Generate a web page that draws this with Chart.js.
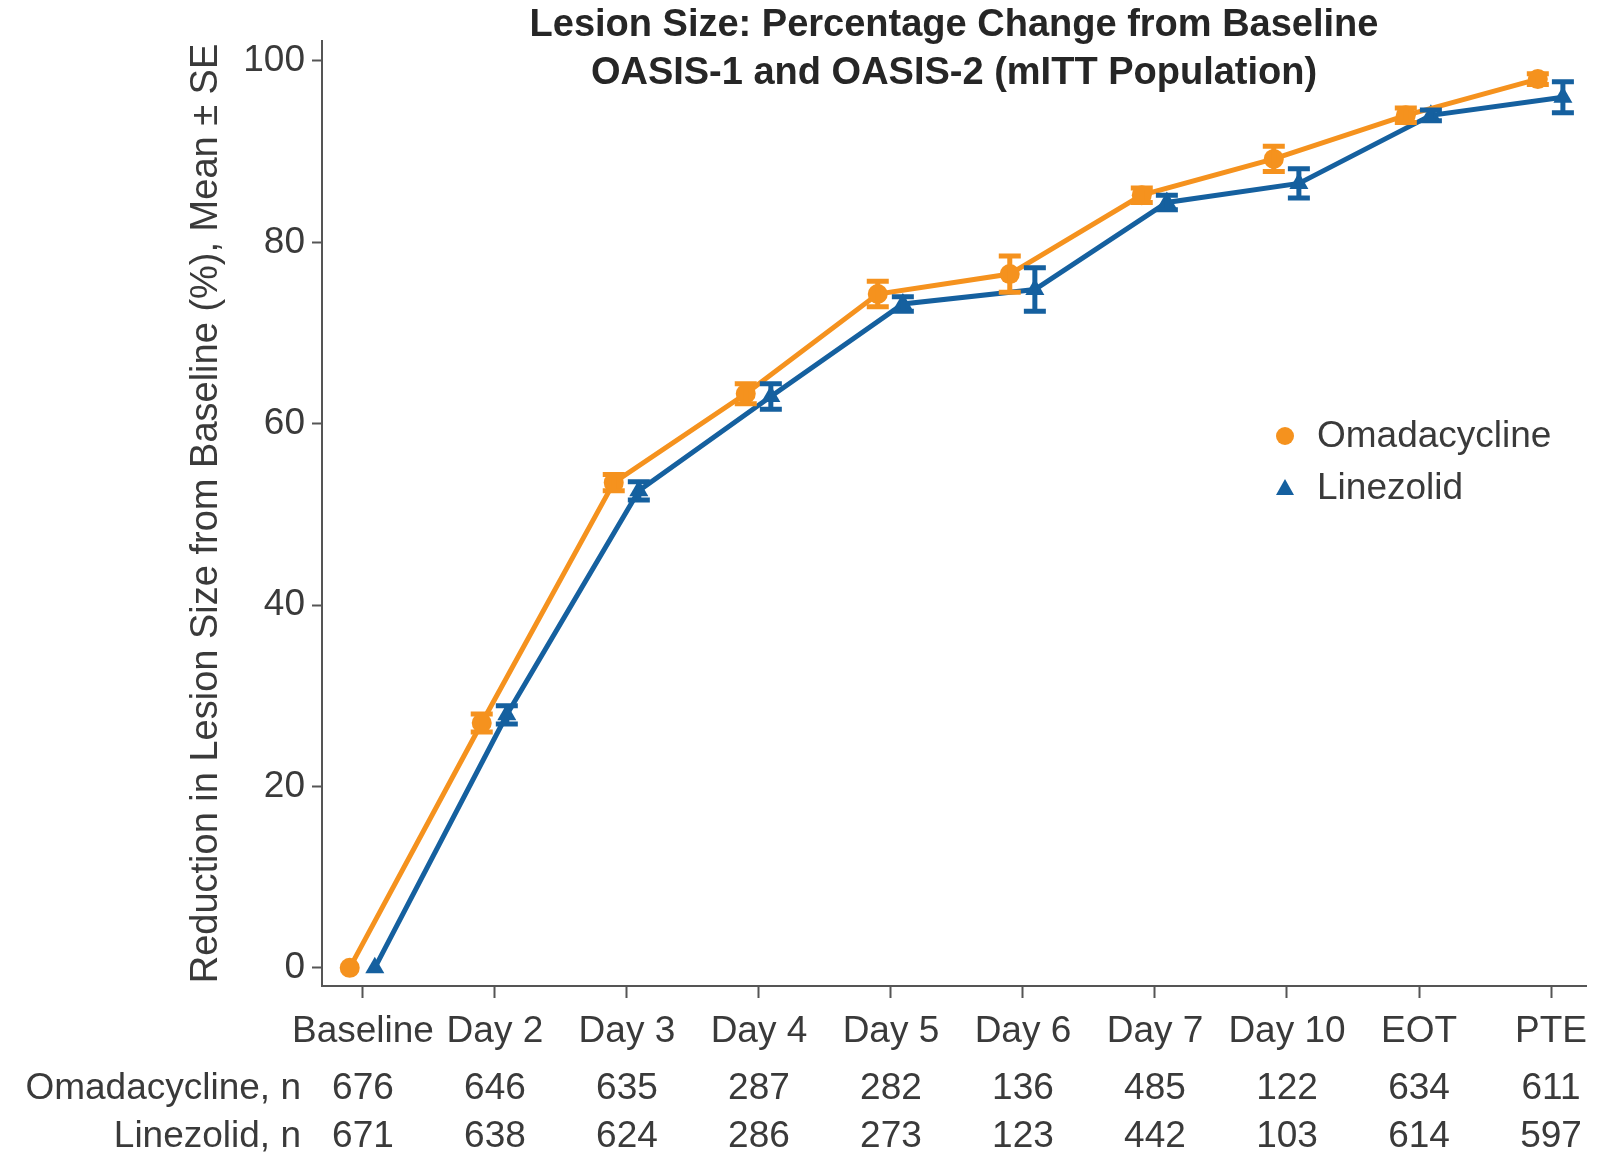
<!DOCTYPE html>
<html>
<head>
<meta charset="utf-8">
<script src="https://cdn.jsdelivr.net/npm/chart.js@4.4.1/dist/chart.umd.min.js"></script>
<style>
html, body { margin: 0; padding: 0; background: #fff; }
</style>
</head>
<body>
<canvas id="lesionChart" width="1597" height="1157"></canvas>
<script>
// visits and values
var visits = ["Baseline", "Day 2", "Day 3", "Day 4", "Day 5", "Day 6", "Day 7", "Day 10", "EOT", "PTE"];
var omaMean = [0, 27.0, 53.5, 63.3, 74.3, 76.5, 85.2, 89.2, 94.0, 98.0];
var omaSE   = [0, 1.0, 0.9, 1.1, 1.4, 2.0, 0.8, 1.4, 0.8, 0.6];
var linMean = [0, 27.9, 52.6, 63.0, 73.2, 74.8, 84.4, 86.5, 94.0, 96.0];
var linSE   = [0, 1.0, 1.0, 1.4, 0.8, 2.4, 0.8, 1.6, 0.6, 1.7];
var omaN = [676, 646, 635, 287, 282, 136, 485, 122, 634, 611];
var linN = [671, 638, 624, 286, 273, 123, 442, 103, 614, 597];
var yTicks = [0, 20, 40, 60, 80, 100];

var ORANGE = "#F5921E";
var BLUE = "#15609F";
var TEXT = "#3a3a3a";
var FONT = "'Liberation Sans', Arial, sans-serif";

function points(vals, shift){
	return vals.map(function(v, i){ return { x: i + shift, y: v }; });
}

var errorBars = {
	id: 'errorBars',
	afterDatasetsDraw: function(chart){
		var ctx = chart.ctx;
		var ys = chart.scales.y;
		chart.data.datasets.forEach(function(ds, di){
			var meta = chart.getDatasetMeta(di);
			ctx.save();
			ctx.strokeStyle = ds.borderColor;
			ctx.lineWidth = 5;
			meta.data.forEach(function(pt, i){
				var se = ds.se[i];
				if (!se) { return; }
				var top = ys.getPixelForValue(ds.data[i].y + se);
				var bot = ys.getPixelForValue(ds.data[i].y - se);
				ctx.beginPath();
				ctx.moveTo(pt.x, top); ctx.lineTo(pt.x, bot);
				ctx.moveTo(pt.x - 11, top); ctx.lineTo(pt.x + 11, top);
				ctx.moveTo(pt.x - 11, bot); ctx.lineTo(pt.x + 11, bot);
				ctx.stroke();
			});
			ctx.restore();
		});
	}
};

var extras = {
	id: 'extras',
	afterDraw: function(chart){
		var ctx = chart.ctx;
		var area = chart.chartArea;
		var xs = chart.scales.x;
		ctx.save();

		// title
		ctx.fillStyle = "#262626";
		ctx.font = "bold 38px " + FONT;
		ctx.textAlign = "center";
		ctx.textBaseline = "middle";
		var cx = (area.left + area.right) / 2;
		ctx.fillText("Lesion Size: Percentage Change from Baseline", cx, 26);
		ctx.fillText("OASIS-1 and OASIS-2 (mITT Population)", cx, 74);

		// legend
		ctx.font = "37px " + FONT;
		ctx.fillStyle = TEXT;
		ctx.textAlign = "left";
		ctx.fillText("Omadacycline", 1317, 437);
		ctx.fillText("Linezolid", 1317, 489);
		ctx.fillStyle = ORANGE;
		ctx.beginPath(); ctx.arc(1285, 436, 9, 0, Math.PI * 2); ctx.fill();
		ctx.fillStyle = BLUE;
		ctx.beginPath();
		ctx.moveTo(1285, 479); ctx.lineTo(1294, 495); ctx.lineTo(1276, 495);
		ctx.closePath(); ctx.fill();

		// n at risk table
		ctx.fillStyle = TEXT;
		ctx.textAlign = "right";
		ctx.fillText("Omadacycline, n", 301, 1089);
		ctx.fillText("Linezolid, n", 301, 1137);
		ctx.textAlign = "center";
		visits.forEach(function(v, i){
			var px = xs.getPixelForValue(i);
			ctx.fillText(String(omaN[i]), px, 1089);
			ctx.fillText(String(linN[i]), px, 1137);
		});
		ctx.restore();
	}
};

var chart_line = new Chart(document.getElementById('lesionChart'), {
	type: 'line',
	data: {
		datasets: [{
			label: "Omadacycline",
			data: points(omaMean, -0.1),
			se: omaSE,
			borderColor: ORANGE,
			backgroundColor: ORANGE,
			borderWidth: 5,
			pointStyle: 'circle',
			pointRadius: 10,
			pointBorderWidth: 0,
			tension: 0
		}, {
			label: "Linezolid",
			data: points(linMean, 0.09),
			se: linSE,
			borderColor: BLUE,
			backgroundColor: BLUE,
			borderWidth: 5,
			pointStyle: 'triangle',
			pointRadius: 11,
			pointBorderWidth: 0,
			tension: 0
		}]
	},
	options: {
		responsive: false,
		animation: false,
		clip: false,
		layout: { padding: { left: 0, right: 8, top: 41, bottom: 0 } },
		plugins: {
			legend: { display: false },
			tooltip: { enabled: false },
			title: { display: false }
		},
		scales: {
			x: {
				type: 'linear',
				min: -0.31,
				max: 9.265,
				afterBuildTicks: function(s){ s.ticks = visits.map(function(v, i){ return { value: i }; }); },
				afterFit: function(s){ s.height = 171; s.paddingLeft = 0; s.paddingRight = 0; },
				grid: { display: true, drawOnChartArea: false, drawTicks: true, tickLength: 12, tickColor: "#555", tickWidth: 2 },
				border: { display: true, color: "#555", width: 2 },
				ticks: {
					autoSkip: false,
					maxRotation: 0,
					minRotation: 0,
					padding: 12,
					color: TEXT,
					font: { family: FONT, size: 37 },
					callback: function(val){ return visits[val]; }
				}
			},
			y: {
				type: 'linear',
				min: -2,
				max: 102.2,
				afterBuildTicks: function(s){ s.ticks = yTicks.map(function(v){ return { value: v }; }); },
				afterFit: function(s){ s.width = 322; s.paddingTop = 0; s.paddingBottom = 0; },
				grid: { display: true, drawOnChartArea: false, drawTicks: true, tickLength: 10, tickColor: "#555", tickWidth: 2 },
				border: { display: true, color: "#555", width: 2 },
				ticks: {
					padding: 7,
					color: TEXT,
					font: { family: FONT, size: 37 }
				},
				title: {
					display: true,
					text: "Reduction in Lesion Size from Baseline (%), Mean \u00B1 SE",
					color: TEXT,
					font: { family: FONT, size: 38 },
					padding: { top: 184, bottom: 0 }
				}
			}
		}
	},
	plugins: [errorBars, extras]
});
</script>
</body>
</html>
